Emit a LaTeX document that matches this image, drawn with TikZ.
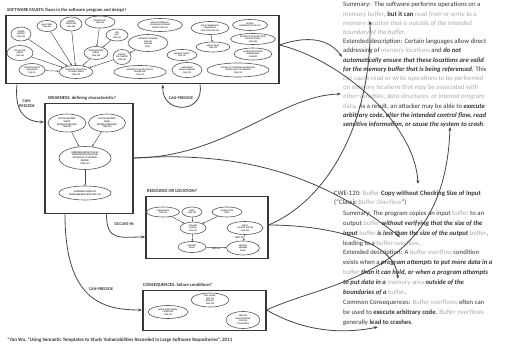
\documentclass[tikz,border=0pt]{standalone}
\usepackage{fontspec}
\setmainfont{Carlito}
\usetikzlibrary{shapes.geometric,arrows.meta}
\definecolor{ink}{RGB}{55,55,55}
\definecolor{faint}{RGB}{172,172,172}
\definecolor{wire}{RGB}{70,70,70}
% text styling for the CWE descriptions
\newcommand\dimw[1]{\textcolor{faint}{#1}}
\newcommand\dimi[1]{\textcolor{faint}{\itshape #1}}
\newcommand\keyb[1]{\textbf{\itshape #1}}
\newcommand\keyr[1]{\textbf{#1}}
\begin{document}
\begin{tikzpicture}[x=1pt,y=-1pt,
  frame/.style={draw=ink, line width=1.5pt, inner sep=0, anchor=north west},
  ell/.style={ellipse, draw=ink!85, line width=0.6pt, inner sep=0, align=center,
    font=\fontsize{2.2}{2.5}\selectfont\bfseries, text=ink},
  link/.style={draw=wire, line width=0.8pt, -{Stealth[length=4pt,width=3pt]}},
  inlink/.style={draw=wire, line width=0.45pt, -{Stealth[length=2pt,width=1.6pt]}},
  boxtitle/.style={font=\fontsize{4.6}{5}\selectfont\bfseries, text=ink, anchor=base west, inner sep=0},
  edgelabel/.style={font=\fontsize{4.2}{4.8}\selectfont\bfseries, text=ink, align=center, inner sep=0.5pt},
  small/.style={font=\fontsize{2.4}{2.7}\selectfont\bfseries, text=ink, inner sep=0.3pt},
  desc/.style={anchor=north west, inner sep=0, align=left, text=ink}]
\useasboundingbox (0,0) rectangle (509,347);
\fill[white] (0,0) rectangle (509,347);

% ---------------- software faults ----------------
\node[frame, minimum width=273pt, minimum height=68pt] (faults) at (5,15) {};
\node[boxtitle] (faultsT) at (7,12) {SOFTWARE FAULTS: flaws in the software program and design?};
\node[ell, minimum width=20pt, minimum height=14pt] (t1) at (21,34) {SIGNED\\INTEGER\\CWE-195};
\node[ell, minimum width=20pt, minimum height=11pt] (t2) at (47,26) {NULL TERM.\\CWE-170};
\node[ell, minimum width=22pt, minimum height=14pt] (t3) at (71,24) {INTEGER\\OVERFLOW\\CWE-190};
\node[ell, minimum width=30pt, minimum height=12pt] (t4) at (100,22) {POINTER SUB.\\CWE-469};
\node[ell, minimum width=22pt, minimum height=12pt] (t5) at (117,35) {SIZE\\CALC.\\CWE-131};
\node[ell, minimum width=26pt, minimum height=15pt] (t6) at (20,53) {OFF-BY-ONE\\ERROR\\CWE-193};
\node[ell, minimum width=26pt, minimum height=13pt] (t7) at (32,70) {IMPROPER INPUT\\VALIDATION\\CWE-20};
\node[ell, minimum width=34pt, minimum height=13pt] (t8) at (76,72) {IMPROPER VALIDATION\\OF ARRAY INDEX\\CWE-129};
\node[ell, minimum width=24pt, minimum height=13pt] (t9) at (96,53) {WRAP-AROUND\\ERROR\\CWE-128};
\node[ell, minimum width=18pt, minimum height=15pt] (t10) at (122,57) {SIZEOF()\\ON POINTER\\CWE-467};
\node[ell, minimum width=45pt, minimum height=13pt] (t11) at (160,25) {USE OF EXTERNALLY-\\CONTROLLED FORMAT\\STRING CWE-134};
\node[ell, minimum width=40pt, minimum height=17pt] (t12) at (148,43) {INCORRECT POINTER\\SCALING\\CWE-468\\MISC.};
\node[ell, minimum width=52pt, minimum height=13pt] (t13) at (140,72) {INCORRECT CALCULATION OF\\BUFFER SIZE\\CWE-131};
\node[ell, minimum width=30pt, minimum height=11pt] (t14) at (182,55) {NUMERIC TRUNC.\\CWE-197};
\node[ell, minimum width=30pt, minimum height=15pt] (t15) at (187,70) {UNCHECKED\\ARRAY INDEXING\\CWE-129};
\node[ell, minimum width=38pt, minimum height=13pt] (t16) at (210,28) {USE OF INHERENTLY\\DANGEROUS\\FUNCTION CWE-242};
\node[ell, minimum width=34pt, minimum height=10pt] (t17) at (213,47) {ARRAY INDEX\\CWE-129};
\node[ell, minimum width=35pt, minimum height=11pt] (t18) at (250,25) {BUFFER\\UNDERWRITE CWE-124};
\node[ell, minimum width=45pt, minimum height=11pt] (t19) at (253,39) {RETURN OF POINTER VALUE\\OUTSIDE RANGE\\CWE-466};
\node[ell, minimum width=38pt, minimum height=12pt] (t20) at (253,54) {UNTRUSTED POINTER\\DEREFERENCE\\CWE-822};
\node[ell, minimum width=62pt, minimum height=14pt] (t21) at (238,70) {FAILURE TO CONSTRAIN OPERATIONS\\WITHIN LIMITS OF MEMORY\\CWE-119};
\foreach \s in {t1,t2,t3,t6,t7,t9,t10} \draw[inlink] (\s) -- (t8);
\draw[inlink] (t4) -- (t9);
\draw[inlink] (t5) -- (t9);
\draw[inlink] (t12) -- (t10);
\draw[inlink] (t16) -- (t17);

% ---------------- weakness ----------------
\node[frame, minimum width=88pt, minimum height=110pt] (weak) at (44,103) {};
\node[boxtitle] (weakT) at (48,100) {WEAKNESS: defining characteristic?};
\begin{scope}[ell/.append style={font=\fontsize{2.4}{2.8}\selectfont\bfseries}]
\node[ell, minimum width=38pt, minimum height=18pt] (w1) at (67,123) {OUT-OF-BOUNDS\\WRITE\\BUFFER OVERFLOW\\CWE-787};
\node[ell, minimum width=37pt, minimum height=18pt] (w2) at (107,123) {OUT-OF-BOUNDS\\READ\\BUFFER OVER-READ\\CWE-125};
\node[ell, minimum width=52pt, minimum height=23pt] (w3) at (85,158) {IMPROPER RESTRICTION OF\\OPERATIONS WITHIN THE\\BOUNDS OF A MEMORY\\BUFFER\\CWE-119};
\node[ell, minimum width=52pt, minimum height=14pt] (w4) at (85,193) {IMPROPER ACCESS OF\\INDEXABLE RESOURCE CWE-118};
\end{scope}
\draw[inlink] (w1) -- (w3);
\draw[inlink] (w2) -- (w3);
\draw[inlink] (w3) -- (w4);

% ---------------- resource ----------------
\node[frame, minimum width=122pt, minimum height=62pt] (res) at (145,196) {};
\node[boxtitle] (resT) at (147,193) {RESOURCE OR LOCATION?};
\node[ell, minimum width=33pt, minimum height=10pt] (r1) at (163,212) {STACK-BASED\\CWE-121};
\node[ell, minimum width=20pt, minimum height=10pt] (r2) at (192,212) {HEAP\\CWE-122};
\node[ell, minimum width=30pt, minimum height=10pt] (r3) at (227,212) {GLOBAL DATA\\(BSS)};
\node[ell, minimum width=26pt, minimum height=12pt] (r4) at (193,228) {MEMORY\\BUFFER\\CWE-119};
\node[ell, minimum width=36pt, minimum height=13pt] (r5) at (245,228) {INPUT\\/OUTPUT BUFFER\\CWE-120};
\node[ell, minimum width=28pt, minimum height=11pt] (r6) at (192,247) {MEMORY\\SPACE};
\node[ell, minimum width=33pt, minimum height=14pt] (r7) at (243,248) {PROCESS\\ADDRESS\\SPACE};
\draw[inlink] (r1) -- (r4);
\draw[inlink] (r2) -- (r4);
\draw[inlink] (r3) -- (r4);
\draw[inlink] (r4) -- (r6);
\draw[inlink] (r6) -- node[small, below] {PART OF} (r7);
\draw[inlink] (r5) -- node[small, left] {PART OF} (r7);

% ---------------- consequences ----------------
\node[frame, minimum width=123pt, minimum height=40pt] (cons) at (142,290) {};
\node[boxtitle] (consT) at (143,287) {CONSEQUENCES: failure conditions?};
\node[ell, minimum width=40pt, minimum height=13pt] (c1) at (168,312) {WRITE-WHAT-WHERE\\CONDITION\\CWE-123};
\node[ell, minimum width=38pt, minimum height=14pt] (c2) at (210,300) {DOS: CRASH,\\EXIT OR\\RESTART\\CWE-730};
\node[ell, minimum width=34pt, minimum height=17pt] (c3) at (243,320) {EXECUTE\\UNAUTHORIZED\\CODE OR\\COMMANDS};

% ---------------- CWE descriptions ----------------
\node[desc, font=\fontsize{6.7}{9.2}\selectfont] (cwe119) at (343,2) {%
Summary:~ The software performs operations on a\\
\dimw{memory buffer}, \keyr{but it can} \dimi{read from or write to a}\\
\dimi{memory location that is outside of the intended}\\
\dimi{boundary of the buffer.}\\
Extended description: Certain languages allow direct\\
addressing of \dimw{memory locations} and \keyb{do not}\\
\keyb{automatically ensure that these locations are valid}\\
\keyb{for the memory buffer that is being referenced}. This\\
\dimw{can cause read or write operations to be performed}\\
\dimw{on memory locations that may be associated with}\\
\dimi{other variables, data structures, or internal program}\\
\dimw{data}. As a result, an attacker may be able to \keyb{execute}\\
\keyb{arbitrary code, alter the intended control flow, read}\\
\keyb{sensitive information, or cause the system to crash}.};
\node[desc, font=\fontsize{6.7}{9.5}\selectfont] (cwe120) at (334,190.5) {%
CWE-120: \dimw{Buffer} \keyr{Copy without Checking Size of Input}\\
(“Classic \dimw{Buffer Overflow}”)};
\node[desc, font=\fontsize{6.7}{9.9}\selectfont] (cwe120b) at (343,210.5) {%
Summary: The program copies an input \dimw{buffer} to an\\
output \dimw{buffer} \keyb{without verifying that the size of the}\\
\keyb{input} \dimw{buffer} \keyb{is less than the size of the output} \dimw{buffer},\\
leading to a \dimw{buffer overflow}.\\
Extended description: A \dimw{buffer overflow} condition\\
exists when a \keyb{program attempts to put more data in a}\\
\dimw{buffer} \keyb{than it can hold, or when a program attempts}\\
\keyb{to put data in a} \dimw{memory area} \keyb{outside of the}\\
\keyb{boundaries of a} \dimw{buffer}.\\
Common Consequences: \dimw{Buffer overflows} often can\\
be used to \keyr{execute arbitrary code}. \dimw{Buffer overflows}\\
generally \keyr{lead to crashes}.};

\node[anchor=west, inner sep=0, font=\fontsize{5}{6}\selectfont\bfseries, text=ink] (ref) at (7,340)
  {*Yan Wu, “Using Semantic Templates to Study Vulnerabilities Recorded in Large Software Repositories”, 2011};

% ---------------- endpoints inside the descriptions ----------------
\coordinate (toAddr) at (342,57);
\coordinate (toOther) at (341,94);
\coordinate (toCopy) at (418,184);
\coordinate (toInput) at (400,237);
\coordinate (toBufferTop) at (370,21);
\coordinate (toHold) at (398,279);
\coordinate (toCrash) at (450,127);
\coordinate (toCrashes) at (378,327);

% ---------------- relations ----------------
\draw[link] ([xshift=12pt]faults.south west) .. controls +(-3,28) and +(-18,0) .. ([yshift=-19pt]weak.north west);
\node[edgelabel] (precA) at (27,104) {CAN-\\PRECEDE};
\draw[link] ([xshift=195pt]faults.south west) .. controls +(5,30) and +(-2,30) .. ([xshift=158pt]faults.south west);
\node[edgelabel] (loopL) at (181,98) {CAN-PRECEDE};
\draw[link] ([xshift=-27pt]weak.south east) .. controls +(0,27) and +(-25,0) .. ([yshift=-41pt]res.north west);
\node[edgelabel] (occL) at (124,224) {OCCURS-IN};
\draw[link] ([xshift=21pt]weak.south west) .. controls +(0,85) and +(-40,0) .. ([yshift=-20pt]cons.north west);
\node[edgelabel] (precB) at (101,289) {CAN-PRECEDE};

\draw[link] ([yshift=-30pt]faults.north east) .. controls +(35,-12) and +(-10,-14) .. (toAddr);
\draw[link] ([yshift=-30pt]faults.north east) .. controls +(62,15) and +(-3,-60) .. (toCopy);
\draw[link] ([yshift=-55pt]weak.north east) .. controls +(90,0) and +(-60,1) .. (toOther);
\draw[link] ([yshift=-55pt]weak.north east) .. controls +(120,-8) and +(-70,-55) .. (toInput);
\draw[link] ([yshift=-29pt]res.north east) .. controls +(60,-25) and +(2,100) .. (toBufferTop);
\draw[link] ([yshift=-29pt]res.north east) .. controls +(55,0) and +(-3,-40) .. (toHold);
\draw[link] ([yshift=-20pt]cons.north east) .. controls +(65,-30) and +(-5,150) .. (toCrash);
\draw[link] ([yshift=-20pt]cons.north east) .. controls +(35,20) and +(-40,8) .. (toCrashes);
\end{tikzpicture}
\end{document}
